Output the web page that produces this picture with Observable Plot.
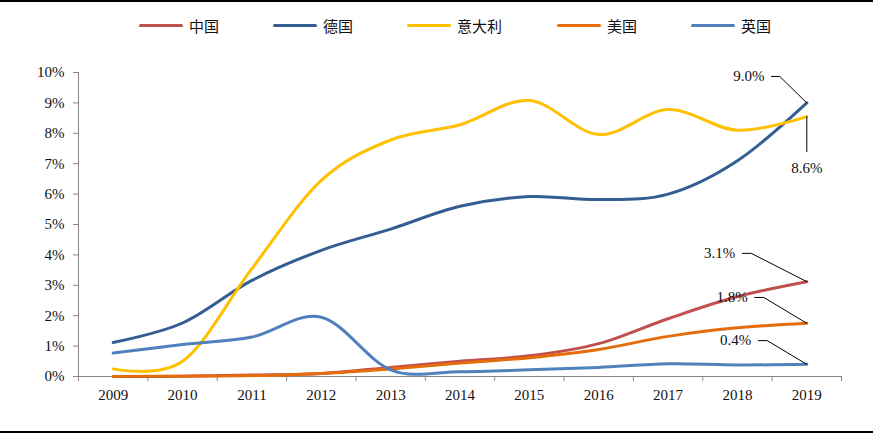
<!DOCTYPE html>
<html><head><meta charset="utf-8">
<script src="https://cdn.jsdelivr.net/npm/d3@7"></script>
<script src="https://cdn.jsdelivr.net/npm/@observablehq/plot@0.6"></script>
<style>
body{margin:0;background:#fff;}
#wrap{width:873px;height:435px;position:relative;overflow:hidden;background:#fff;}
#topline{height:2px;background:#000;}
#legend{position:relative;height:46px;}
.item{position:absolute;top:0;height:46px;display:flex;align-items:center;font-size:15px;font-family:"Noto Sans CJK SC",sans-serif;color:#111;white-space:nowrap;}
.sw{width:44px;height:3px;border-radius:2px;margin-right:6px;}
#botline{position:absolute;left:0;top:431px;width:873px;height:2px;background:#000;}
</style>
</head><body>
<div id="wrap">
<div id="topline"></div>
<div id="legend"></div>
<div id="chart"></div>
<div id="botline"></div>
</div>
<script>
const years = [2009,2010,2011,2012,2013,2014,2015,2016,2017,2018,2019];
const seriesNames = ["中国","德国","意大利","美国","英国"];
const seriesColors = ["#C0504D","#345E92","#FFC000","#E46C0A","#4F81BD"];
const china   = [0.00,0.01,0.05,0.10,0.30,0.50,0.68,1.08,1.90,2.63,3.12];
const germany = [1.12,1.76,3.16,4.15,4.85,5.60,5.92,5.82,6.00,7.10,9.00];
const italy   = [0.25,0.50,3.55,6.45,7.78,8.28,9.08,7.96,8.78,8.10,8.55];
const usa     = [0.00,0.01,0.03,0.10,0.25,0.44,0.62,0.89,1.32,1.60,1.75];
const uk      = [0.77,1.05,1.30,1.95,0.22,0.16,0.22,0.30,0.42,0.38,0.40];
const seriesValues = [china, germany, italy, usa, uk];
const yTicks = [0,1,2,3,4,5,6,7,8,9,10];

// callouts: label, label anchor (year, %), leader path points (year, %)
const callouts = [
  {label:"9.0%", lx:2018.49, ly:9.87, anchor:"end",    path:[[2018.49,9.87],[2018.61,9.87],[2019,9.00]]},
  {label:"8.6%", lx:2019,    ly:6.84, anchor:"middle", path:[[2019,8.55],[2019,7.40]]},
  {label:"3.1%", lx:2018.07, ly:4.05, anchor:"end",    path:[[2018.07,4.05],[2018.20,4.05],[2019,3.12]]},
  {label:"1.8%", lx:2018.25, ly:2.60, anchor:"end",    path:[[2018.25,2.60],[2018.38,2.60],[2019,1.75]]},
  {label:"0.4%", lx:2018.30, ly:1.18, anchor:"end",    path:[[2018.30,1.18],[2018.43,1.18],[2019,0.40]]}
];

// legend
const legendLeft = [139,273,407,557,691];
const legend = document.getElementById("legend");
seriesNames.forEach((n,i)=>{
  const it = document.createElement("div");
  it.className="item"; it.style.left = legendLeft[i]+"px";
  it.innerHTML = `<span class="sw" style="background:${seriesColors[i]}"></span><span>${n}</span>`;
  legend.appendChild(it);
});

const table = [];
seriesNames.forEach((n,i)=>years.forEach((y,j)=>table.push({series:n, year:y, value:seriesValues[i][j]})));
const boundaries = years.map(y=>y-0.5).concat([years[years.length-1]+0.5]);
const leaders = [];
callouts.forEach((c,i)=>c.path.forEach(p=>leaders.push({id:i, x:p[0], y:p[1]})));

const axisColor = "#868686";
const chart = Plot.plot({
  width:873, height:384,
  marginLeft:78, marginRight:32, marginTop:24, marginBottom:56,
  style:{fontFamily:"'Liberation Serif', serif", fontSize:"15px", color:"#111", background:"transparent"},
  x:{domain:[boundaries[0], boundaries[boundaries.length-1]]},
  y:{domain:[0,10]},
  marks:[
    Plot.axisY({ticks:yTicks, tickFormat:d=>d+"%", tickSize:5, tickPadding:9, stroke:axisColor, fill:"#111", label:null}),
    Plot.axisX({ticks:boundaries, tickFormat:()=>"", tickSize:5, stroke:axisColor, label:null}),
    Plot.axisX({ticks:years, tickFormat:d=>String(d), tickSize:0, tickPadding:13, fill:"#111", label:null}),
    Plot.ruleX([boundaries[0]], {stroke:axisColor}),
    Plot.ruleY([0], {stroke:axisColor}),
    ...seriesNames.map((n,i)=>Plot.line(table.filter(d=>d.series===n), {
      x:"year", y:"value", stroke:seriesColors[i], strokeWidth:3, curve:"cardinal", strokeLinecap:"round"
    })),
    Plot.line(leaders, {x:"x", y:"y", z:"id", stroke:"#000", strokeWidth:1}),
    Plot.text(callouts.filter(c=>c.anchor==="end"), {x:"lx", y:"ly", text:"label", textAnchor:"end", dx:-7, fill:"#111", fontSize:15}),
    Plot.text(callouts.filter(c=>c.anchor==="middle"), {x:"lx", y:"ly", text:"label", textAnchor:"middle", fill:"#111", fontSize:15})
  ]
});
document.getElementById("chart").appendChild(chart);
</script>
</body></html>
